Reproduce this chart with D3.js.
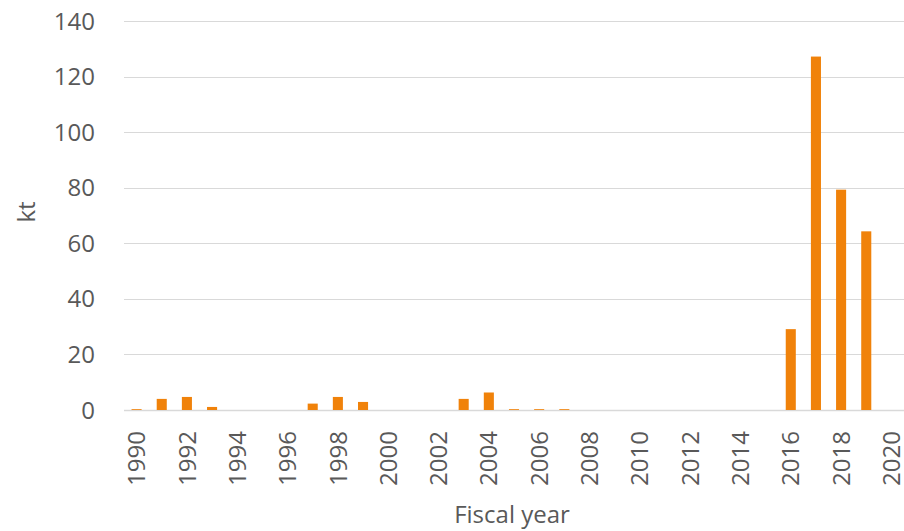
<!DOCTYPE html>
<html>
<head>
<meta charset="utf-8">
<script src="https://cdn.jsdelivr.net/npm/d3@7"></script>
<style>
  body { margin: 0; background: #fff; }
  text { font-family: "Open Sans", "Noto Sans", sans-serif; fill: #595959; }
</style>
</head>
<body>
<div id="chart"></div>
<script>
// years and emissions (kt)
const years = d3.range(1990, 2021).map(String);
const values = [0.3, 4.0, 4.7, 1.1, 0, 0, 0, 2.3, 4.7, 2.9, 0, 0, 0, 4.0, 6.3,
  0.3, 0.3, 0.3, 0, 0, 0, 0, 0, 0, 0, 0, 29.1, 127.2, 79.3, 64.3, 0];
const yTicks = [0, 20, 40, 60, 80, 100, 120, 140];
const xLabels = years.filter((d, i) => i % 2 === 0);

let width = 904;
let height = 531;
let margin = { left: 124, right: 0, top: 21, bottom: 121 };

let svg = d3.select("#chart")
  .append("svg")
  .attr("width", width)
  .attr("height", height);

let x = d3.scaleBand()
  .domain(years)
  .range([margin.left, 904])
  .paddingInner(0.6)
  .paddingOuter(0.3);

let y = d3.scaleLinear()
  .domain([0, 140])
  .range([height - margin.bottom, margin.top]);

// gridlines
svg.append("g")
  .selectAll("line")
  .data(yTicks)
  .join("line")
  .attr("x1", margin.left)
  .attr("x2", width)
  .attr("y1", d => Math.round(y(d)) + 0.5)
  .attr("y2", d => Math.round(y(d)) + 0.5)
  .style("stroke", "#d9d9d9")
  .style("stroke-width", d => d === 0 ? 1.5 : 1);

// y tick labels
svg.append("g")
  .selectAll("text")
  .data(yTicks)
  .join("text")
  .attr("x", 95)
  .attr("y", d => y(d))
  .attr("dy", "0.36em")
  .style("text-anchor", "end")
  .style("font-size", "24px")
  .text(d => d);

// bars
svg.append("g")
  .selectAll("rect")
  .data(values)
  .join("rect")
  .attr("x", (d, i) => x(years[i]))
  .attr("width", x.bandwidth())
  .attr("y", d => y(d))
  .attr("height", d => y(0) - y(d))
  .style("fill", "#f0820a");

// x tick labels (rotated)
svg.append("g")
  .selectAll("text")
  .data(xLabels)
  .join("text")
  .attr("transform", d => `translate(${x(d) + x.bandwidth() / 2},431) rotate(-90)`)
  .attr("dy", "0.36em")
  .style("text-anchor", "end")
  .style("font-size", "24px")
  .text(d => d);

// axis titles
svg.append("text")
  .attr("transform", "translate(35,212) rotate(-90)")
  .style("text-anchor", "middle")
  .style("font-size", "24px")
  .text("kt");

svg.append("text")
  .attr("x", 512)
  .attr("y", 523)
  .style("text-anchor", "middle")
  .style("font-size", "24px")
  .text("Fiscal year");
</script>
</body>
</html>
